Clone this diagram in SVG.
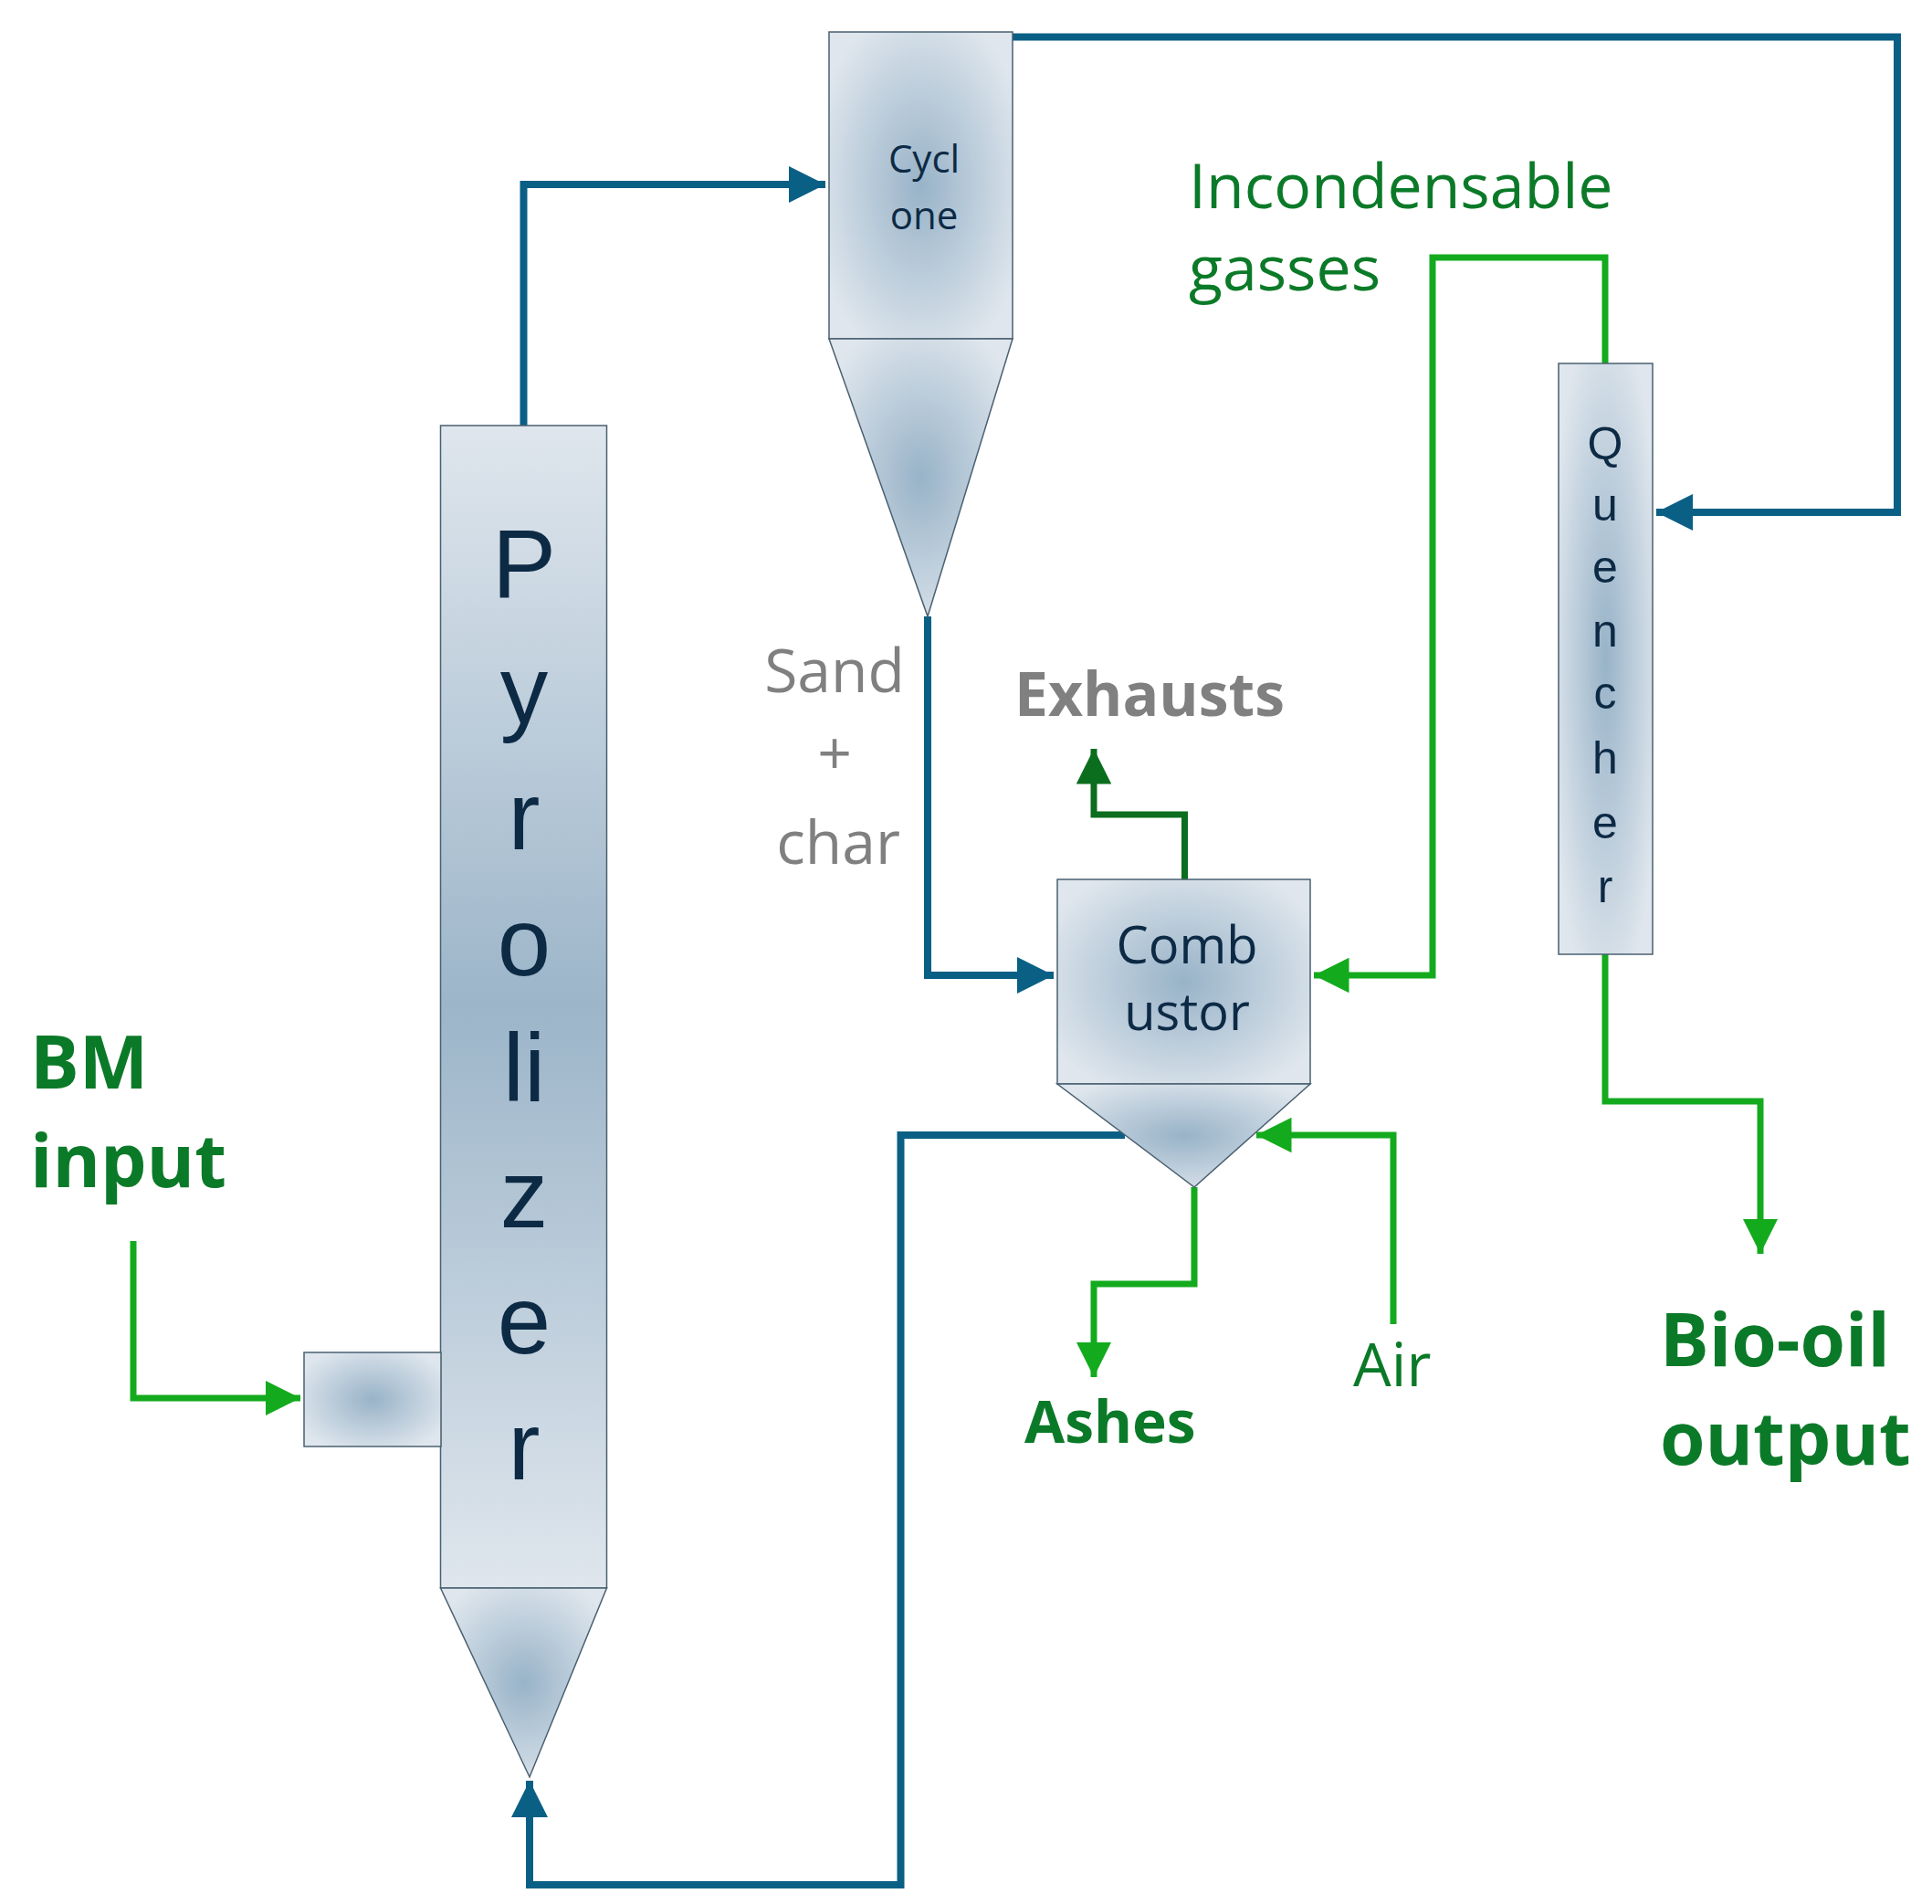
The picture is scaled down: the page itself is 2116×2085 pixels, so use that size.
<svg xmlns="http://www.w3.org/2000/svg" width="2116" height="2085" viewBox="0 0 2116 2085">
<defs>
<radialGradient id="rg" cx="0.5" cy="0.5" r="0.6">
<stop offset="0" stop-color="#98b3c8"/><stop offset="1" stop-color="#dfe6ed"/>
</radialGradient>
<linearGradient id="lg" x1="0" y1="0" x2="0" y2="1">
<stop offset="0" stop-color="#dfe6ed"/><stop offset="0.5" stop-color="#9cb5c9"/><stop offset="1" stop-color="#dfe6ed"/>
</linearGradient>
<marker id="ab" viewBox="0 0 10 10" refX="10" refY="5" markerWidth="5" markerHeight="5" orient="auto" markerUnits="strokeWidth"><path d="M0,0L10,5L0,10z" fill="#0a5f85"/></marker>
<marker id="ag" viewBox="0 0 10 10" refX="10" refY="5" markerWidth="5.5" markerHeight="5.5" orient="auto" markerUnits="strokeWidth"><path d="M0,0L10,5L0,10z" fill="#14aa1e"/></marker>
<marker id="ad" viewBox="0 0 10 10" refX="10" refY="5" markerWidth="5.5" markerHeight="5.5" orient="auto" markerUnits="strokeWidth"><path d="M0,0L10,5L0,10z" fill="#0a6e1e"/></marker>
</defs>
<style>
.sh{stroke:#4a6070;stroke-width:1.5}
.b{fill:none;stroke:#0a5f85;stroke-width:8}
.g{fill:none;stroke:#14aa1e;stroke-width:7}
.d{fill:none;stroke:#0a6e1e;stroke-width:7}
.lab{font-family:"Liberation Sans",Arial,sans-serif;fill:#0d2a45;text-anchor:middle}
.t{font-family:"Open Sans","Noto Sans",sans-serif}
.gr{fill:#808080}
.gn{fill:#0b7a28}
</style>
<g id="connectors">
<path class="b" d="M573.5,466V202H904" marker-end="url(#ab)"/>
<path class="b" d="M1109,40.5H2078V561H1814" marker-end="url(#ab)"/>
<path class="b" d="M1016,675V1068H1154" marker-end="url(#ab)"/>
<path class="b" d="M1232,1243H986.5V2064H580V1950" marker-end="url(#ab)"/>
<path class="g" d="M1758,398V282H1569V1068H1439" marker-end="url(#ag)"/>
<path class="g" d="M1758,1045V1206H1928V1373" marker-end="url(#ag)"/>
<path class="g" d="M1526,1450V1243H1376" marker-end="url(#ag)"/>
<path class="g" d="M1308,1300V1406H1198V1508" marker-end="url(#ag)"/>
<path class="g" d="M146,1359V1531H329" marker-end="url(#ag)"/>
<path class="d" d="M1297.5,963V892H1198V820" marker-end="url(#ad)"/>
</g>
<g id="pyrolizer">
<rect class="sh" x="482.5" y="466" width="182" height="1273" fill="url(#lg)"/>
<path class="sh" d="M482.5,1739H664.5L580,1946Z" fill="url(#rg)"/>
<g class="lab" font-size="105">
<text x="574" y="654">P</text><text x="574" y="792">y</text><text x="574" y="930">r</text><text x="574" y="1068">o</text><text x="574" y="1206">li</text><text x="574" y="1344">z</text><text x="574" y="1482">e</text><text x="574" y="1620">r</text>
</g>
</g>
<g id="feeder"><rect class="sh" x="333" y="1481" width="150" height="103" fill="url(#rg)"/></g>
<g id="cyclone">
<rect class="sh" x="908" y="35" width="201" height="336" fill="url(#rg)"/>
<path class="sh" d="M908,371H1109L1016,675Z" fill="url(#rg)"/>
<text class="t" x="1012" y="189" font-size="42" fill="#0d2a45" text-anchor="middle">Cycl</text>
<text class="t" x="1012" y="251" font-size="42" fill="#0d2a45" text-anchor="middle">one</text>
</g>
<g id="quencher">
<rect class="sh" x="1707" y="398" width="103" height="647" fill="url(#rg)"/>
<g class="lab" font-size="50">
<text x="1758" y="503">Q</text><text x="1758" y="570">u</text><text x="1758" y="638">e</text><text x="1758" y="708">n</text><text x="1758" y="776">c</text><text x="1758" y="847">h</text><text x="1758" y="918">e</text><text x="1758" y="988">r</text>
</g>
</g>
<g id="combustor">
<rect class="sh" x="1158" y="963" width="277" height="224" fill="url(#rg)"/>
<path class="sh" d="M1158,1187H1435L1308,1300Z" fill="url(#rg)"/>
<text class="t" x="1300" y="1055" font-size="56" fill="#0d2a45" text-anchor="middle">Comb</text>
<text class="t" x="1300" y="1128" font-size="56" fill="#0d2a45" text-anchor="middle">ustor</text>
</g>
<g id="labels">
<text class="t gr" x="914" y="758" font-size="66" text-anchor="middle">Sand</text>
<text class="t gr" x="914" y="848" font-size="66" text-anchor="middle">+</text>
<text class="t gr" x="918" y="946" font-size="66" text-anchor="middle">char</text>
<text class="t gr" x="1111" y="784" font-size="66" font-weight="bold">Exhausts</text>
<text class="t gn" x="1302" y="228" font-size="68">Incondensable</text>
<text class="t gn" x="1302" y="318" font-size="68">gasses</text>
<text class="t gn" x="33" y="1192" font-size="80" font-weight="bold">BM</text>
<text class="t gn" x="33" y="1300" font-size="80" font-weight="bold">input</text>
<text class="t gn" x="1122" y="1580" font-size="64" font-weight="bold">Ashes</text>
<text class="t gn" x="1482" y="1518" font-size="66">Air</text>
<text class="t gn" x="1818" y="1496" font-size="80" font-weight="bold">Bio-oil</text>
<text class="t gn" x="1818" y="1604" font-size="80" font-weight="bold">output</text>
</g>
</svg>
